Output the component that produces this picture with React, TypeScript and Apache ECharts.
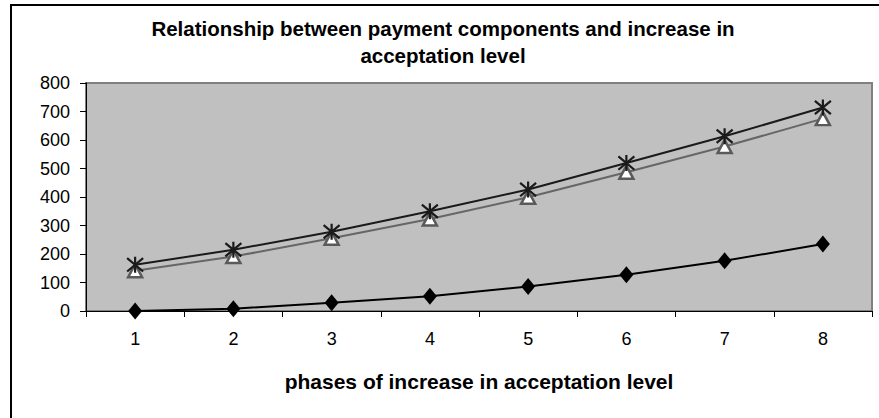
import React, { useEffect, useRef } from "react";
import * as echarts from "echarts";

const titleText = "Relationship between payment components and increase in\nacceptation level";
const xAxisTitle = "phases of increase in acceptation level";
const categories = ["1", "2", "3", "4", "5", "6", "7", "8"];
const yTicks = { min: 0, max: 800, interval: 100 };
const diamondSeries = [0, 8, 29, 52, 86, 127, 176, 235];
const triangleSeries = [141, 191, 255, 323, 399, 487, 577, 675];
const starSeries = [162, 215, 278, 350, 426, 519, 613, 714];

const FONT = "Liberation Sans";
const STAR = "path://M1,1L11,11M11,1L1,11M6,0L6,12";

export default function App() {
  const ref = useRef<HTMLDivElement>(null);
  useEffect(() => {
    if (!ref.current) return;
    const chart = echarts.init(ref.current, undefined, { renderer: "svg" });
    chart.setOption({
      animation: false,
      backgroundColor: "#ffffff",
      textStyle: { fontFamily: FONT },
      title: {
        text: titleText,
        left: 438,
        top: 10,
        textAlign: "center",
        textStyle: {
          fontFamily: FONT,
          fontSize: 20.5,
          fontWeight: "bold",
          color: "#000",
          lineHeight: 27,
        },
      },
      graphic: [
        {
          type: "rect",
          shape: { x: 11, y: 5, width: 1000, height: 1000 },
          style: { fill: "none", stroke: "#000", lineWidth: 2 },
          silent: true,
          z: 100,
        },
      ],
      grid: {
        left: 86,
        top: 83,
        right: 7,
        bottom: 107,
        show: true,
        backgroundColor: "#c0c0c0",
        borderColor: "#808080",
        borderWidth: 2,
      },
      xAxis: {
        type: "category",
        data: categories,
        boundaryGap: true,
        name: xAxisTitle,
        nameLocation: "middle",
        nameGap: 60,
        nameTextStyle: { fontFamily: FONT, fontSize: 21, fontWeight: "bold", color: "#000" },
        axisLine: { show: true, lineStyle: { color: "#000", width: 1 } },
        axisTick: { show: true, inside: false, length: 6, alignWithLabel: false, lineStyle: { color: "#000" } },
        axisLabel: { fontFamily: FONT, fontSize: 18, color: "#000", margin: 19 },
        splitLine: { show: false },
      },
      yAxis: {
        type: "value",
        min: yTicks.min,
        max: yTicks.max,
        interval: yTicks.interval,
        axisLine: { show: true, lineStyle: { color: "#000", width: 1 } },
        axisTick: { show: true, inside: false, length: 6, lineStyle: { color: "#000" } },
        axisLabel: { fontFamily: FONT, fontSize: 18, color: "#000", margin: 16 },
        splitLine: { show: false },
      },
      series: [
        {
          type: "line",
          data: diamondSeries,
          symbol: "diamond",
          symbolSize: [14, 17],
          lineStyle: { color: "#000", width: 2 },
          itemStyle: { color: "#000" },
          z: 3,
        },
        {
          type: "line",
          data: triangleSeries,
          symbol: "triangle",
          symbolSize: [14, 13],
          lineStyle: { color: "#666666", width: 2 },
          itemStyle: { color: "#ffffff", borderColor: "#5a5a5a", borderWidth: 2.5 },
          z: 4,
        },
        {
          type: "line",
          data: starSeries,
          symbol: STAR,
          symbolSize: 16,
          lineStyle: { color: "#1a1a1a", width: 2 },
          itemStyle: { color: "#1a1a1a", borderColor: "#1a1a1a", borderWidth: 2.2 },
          z: 5,
        },
      ],
    });
    return () => chart.dispose();
  }, []);
  return (
    <div
      ref={ref}
      style={{ position: "absolute", left: 0, top: 0, width: 879, height: 418 }}
    />
  );
}
